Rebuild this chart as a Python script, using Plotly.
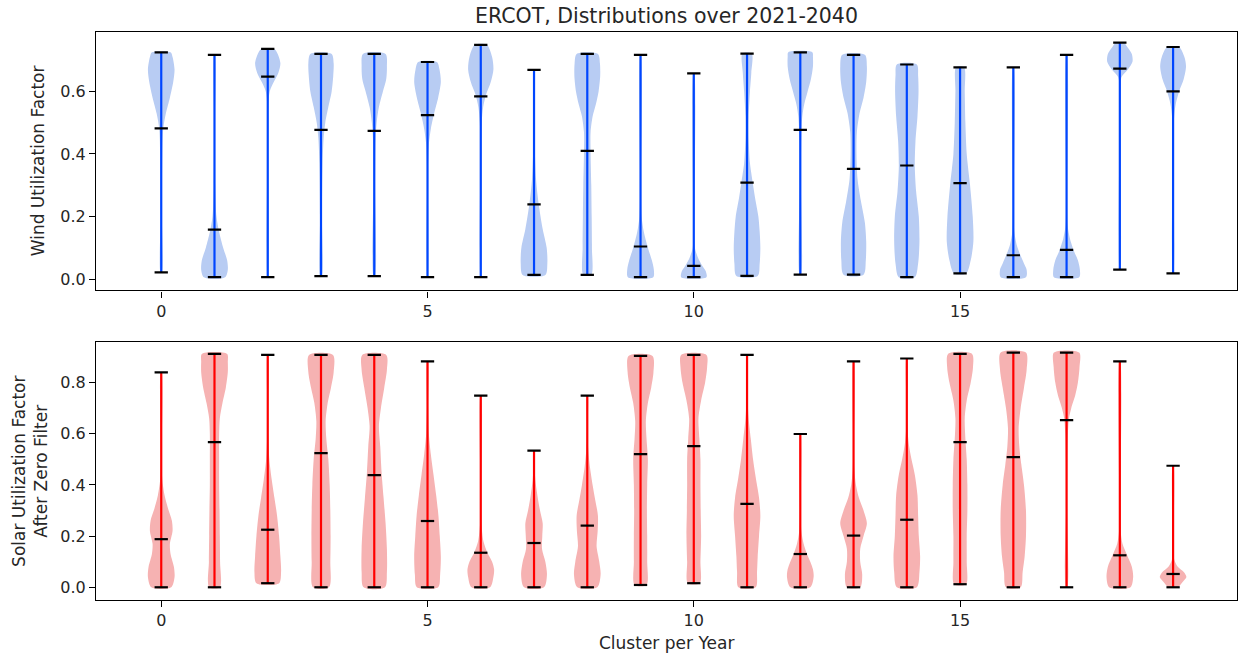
import plotly.graph_objects as go

# ---------------- data ----------------
CLUSTERS = list(range(20))

WIND_MIN = [0.021, 0.006, 0.006, 0.009, 0.009, 0.006, 0.006, 0.013, 0.013, 0.006,
            0.006, 0.010, 0.014, 0.014, 0.006, 0.018, 0.006, 0.006, 0.030, 0.018]
WIND_MAX = [0.725, 0.717, 0.736, 0.720, 0.720, 0.694, 0.749, 0.669, 0.720, 0.717,
            0.658, 0.721, 0.725, 0.717, 0.686, 0.677, 0.677, 0.717, 0.756, 0.742]
WIND_MEAN = [0.482, 0.158, 0.647, 0.477, 0.474, 0.524, 0.584, 0.239, 0.410, 0.104,
             0.042, 0.308, 0.477, 0.352, 0.363, 0.307, 0.076, 0.093, 0.673, 0.600]

# density profiles: (level, relative width) pairs, from min to max
WIND_SHAPE = [
    [(0.021, 0.05), (0.2, 0.05), (0.4, 0.08), (0.48, 0.15), (0.53, 0.35), (0.58, 0.65), (0.63, 0.9), (0.67, 1.0), (0.71, 0.85), (0.725, 0.7)],
    [(0.006, 0.8), (0.03, 1.0), (0.06, 0.95), (0.1, 0.65), (0.15, 0.35), (0.2, 0.15), (0.3, 0.05), (0.5, 0.03), (0.717, 0.03)],
    [(0.006, 0.02), (0.55, 0.03), (0.6, 0.15), (0.63, 0.45), (0.66, 0.8), (0.69, 0.95), (0.72, 0.75), (0.736, 0.5)],
    [(0.009, 0.06), (0.2, 0.07), (0.37, 0.12), (0.45, 0.2), (0.5, 0.32), (0.55, 0.55), (0.6, 0.8), (0.65, 0.92), (0.69, 0.95), (0.72, 0.8)],
    [(0.009, 0.05), (0.3, 0.06), (0.45, 0.1), (0.5, 0.18), (0.55, 0.35), (0.6, 0.65), (0.64, 0.9), (0.68, 0.95), (0.72, 0.85)],
    [(0.006, 0.02), (0.35, 0.03), (0.43, 0.1), (0.48, 0.25), (0.53, 0.5), (0.58, 0.8), (0.63, 1.0), (0.67, 0.9), (0.694, 0.7)],
    [(0.006, 0.02), (0.4, 0.03), (0.5, 0.07), (0.55, 0.18), (0.59, 0.4), (0.63, 0.75), (0.67, 0.95), (0.71, 0.85), (0.749, 0.45)],
    [(0.013, 0.85), (0.05, 1.0), (0.1, 0.95), (0.16, 0.65), (0.24, 0.35), (0.32, 0.15), (0.42, 0.06), (0.55, 0.03), (0.669, 0.03)],
    [(0.013, 0.3), (0.1, 0.35), (0.2, 0.33), (0.3, 0.3), (0.4, 0.25), (0.47, 0.25), (0.52, 0.4), (0.56, 0.65), (0.6, 0.85), (0.65, 0.97), (0.69, 0.95), (0.72, 0.8)],
    [(0.006, 0.95), (0.03, 1.0), (0.06, 0.85), (0.1, 0.55), (0.15, 0.25), (0.2, 0.08), (0.3, 0.03), (0.717, 0.03)],
    [(0.006, 0.95), (0.025, 0.9), (0.045, 0.6), (0.07, 0.3), (0.1, 0.08), (0.15, 0.03), (0.658, 0.03)],
    [(0.01, 0.8), (0.05, 0.95), (0.1, 1.0), (0.15, 0.95), (0.2, 0.85), (0.26, 0.6), (0.31, 0.42), (0.37, 0.22), (0.45, 0.12), (0.52, 0.12), (0.6, 0.22), (0.66, 0.32), (0.721, 0.35)],
    [(0.014, 0.05), (0.3, 0.05), (0.45, 0.07), (0.52, 0.15), (0.56, 0.3), (0.6, 0.55), (0.64, 0.8), (0.68, 0.95), (0.71, 0.95), (0.725, 0.9)],
    [(0.014, 0.75), (0.06, 0.92), (0.12, 0.95), (0.18, 0.85), (0.25, 0.55), (0.32, 0.3), (0.4, 0.22), (0.47, 0.25), (0.53, 0.45), (0.58, 0.75), (0.63, 0.95), (0.68, 1.0), (0.717, 0.85)],
    [(0.006, 0.6), (0.05, 0.85), (0.12, 0.95), (0.2, 0.9), (0.28, 0.7), (0.36, 0.6), (0.44, 0.65), (0.52, 0.8), (0.6, 0.88), (0.65, 0.85), (0.686, 0.75)],
    [(0.018, 0.45), (0.06, 0.8), (0.12, 1.0), (0.2, 0.95), (0.3, 0.75), (0.4, 0.5), (0.5, 0.4), (0.6, 0.35), (0.677, 0.3)],
    [(0.006, 0.95), (0.03, 1.0), (0.05, 0.8), (0.08, 0.5), (0.11, 0.25), (0.15, 0.08), (0.22, 0.03), (0.677, 0.03)],
    [(0.006, 0.95), (0.03, 1.0), (0.06, 0.85), (0.09, 0.55), (0.13, 0.25), (0.17, 0.08), (0.25, 0.03), (0.717, 0.03)],
    [(0.03, 0.02), (0.6, 0.03), (0.645, 0.12), (0.67, 0.6), (0.695, 0.95), (0.72, 0.9), (0.74, 0.6), (0.756, 0.3)],
    [(0.018, 0.02), (0.45, 0.03), (0.52, 0.08), (0.56, 0.2), (0.6, 0.45), (0.64, 0.8), (0.68, 0.97), (0.71, 0.85), (0.742, 0.45)],
]

SOLAR_MIN = [0.0, 0.0, 0.016, 0.0, 0.0, 0.0, 0.0, 0.0, 0.0, 0.009,
             0.016, 0.0, 0.0, 0.0, 0.0, 0.012, 0.0, 0.0, 0.0, 0.0]
SOLAR_MAX = [0.840, 0.912, 0.908, 0.908, 0.908, 0.883, 0.749, 0.534, 0.749, 0.904,
             0.908, 0.908, 0.599, 0.883, 0.894, 0.912, 0.917, 0.917, 0.883, 0.475]
SOLAR_MEAN = [0.188, 0.567, 0.225, 0.524, 0.438, 0.259, 0.135, 0.173, 0.241, 0.520,
              0.552, 0.326, 0.130, 0.202, 0.264, 0.567, 0.509, 0.653, 0.125, 0.052]

SOLAR_SHAPE = [
    [(0.0, 0.75), (0.04, 1.0), (0.08, 0.95), (0.13, 0.7), (0.17, 0.65), (0.22, 0.85), (0.26, 0.8), (0.31, 0.5), (0.36, 0.25), (0.42, 0.08), (0.5, 0.03), (0.84, 0.03)],
    [(0.0, 0.4), (0.1, 0.42), (0.2, 0.4), (0.3, 0.38), (0.4, 0.35), (0.5, 0.35), (0.6, 0.35), (0.66, 0.4), (0.72, 0.6), (0.78, 0.85), (0.84, 1.0), (0.88, 1.0), (0.912, 0.95)],
    [(0.016, 0.85), (0.06, 1.0), (0.12, 0.95), (0.2, 0.85), (0.28, 0.7), (0.35, 0.5), (0.42, 0.3), (0.5, 0.12), (0.58, 0.05), (0.7, 0.03), (0.908, 0.03)],
    [(0.0, 0.6), (0.1, 0.7), (0.2, 0.72), (0.3, 0.7), (0.4, 0.65), (0.5, 0.55), (0.58, 0.4), (0.65, 0.35), (0.72, 0.5), (0.78, 0.75), (0.84, 0.95), (0.908, 0.9)],
    [(0.0, 0.8), (0.06, 0.95), (0.15, 0.95), (0.25, 0.85), (0.35, 0.7), (0.45, 0.55), (0.55, 0.45), (0.63, 0.35), (0.7, 0.5), (0.78, 0.75), (0.85, 0.95), (0.908, 0.9)],
    [(0.0, 0.8), (0.05, 0.95), (0.12, 1.0), (0.2, 0.92), (0.28, 0.82), (0.36, 0.65), (0.44, 0.45), (0.52, 0.25), (0.6, 0.1), (0.7, 0.04), (0.883, 0.03)],
    [(0.0, 0.7), (0.04, 0.95), (0.07, 1.0), (0.1, 0.85), (0.135, 0.5), (0.18, 0.2), (0.25, 0.05), (0.4, 0.03), (0.749, 0.03)],
    [(0.0, 0.75), (0.05, 0.97), (0.1, 0.85), (0.15, 0.6), (0.2, 0.62), (0.25, 0.65), (0.3, 0.45), (0.36, 0.25), (0.42, 0.1), (0.48, 0.04), (0.534, 0.03)],
    [(0.0, 0.75), (0.05, 1.0), (0.1, 0.9), (0.16, 0.7), (0.22, 0.78), (0.28, 0.8), (0.34, 0.6), (0.4, 0.4), (0.47, 0.2), (0.54, 0.07), (0.62, 0.03), (0.749, 0.03)],
    [(0.009, 0.45), (0.1, 0.5), (0.2, 0.5), (0.3, 0.48), (0.4, 0.5), (0.5, 0.55), (0.58, 0.45), (0.65, 0.4), (0.72, 0.55), (0.78, 0.8), (0.84, 0.97), (0.904, 0.9)],
    [(0.016, 0.45), (0.1, 0.5), (0.2, 0.55), (0.3, 0.52), (0.4, 0.5), (0.5, 0.5), (0.58, 0.42), (0.66, 0.35), (0.73, 0.55), (0.8, 0.85), (0.86, 1.0), (0.908, 0.95)],
    [(0.0, 0.65), (0.06, 0.75), (0.12, 0.8), (0.2, 0.9), (0.28, 1.0), (0.35, 0.9), (0.43, 0.65), (0.5, 0.45), (0.58, 0.28), (0.66, 0.12), (0.74, 0.04), (0.908, 0.03)],
    [(0.0, 0.75), (0.04, 1.0), (0.07, 0.95), (0.1, 0.75), (0.13, 0.5), (0.17, 0.25), (0.22, 0.08), (0.3, 0.03), (0.599, 0.03)],
    [(0.0, 0.5), (0.05, 0.65), (0.1, 0.5), (0.15, 0.5), (0.2, 0.75), (0.25, 1.0), (0.3, 0.75), (0.35, 0.4), (0.4, 0.18), (0.46, 0.06), (0.55, 0.03), (0.883, 0.03)],
    [(0.0, 0.75), (0.06, 0.95), (0.12, 1.0), (0.2, 0.9), (0.28, 0.85), (0.36, 0.8), (0.44, 0.6), (0.5, 0.35), (0.56, 0.15), (0.62, 0.05), (0.7, 0.03), (0.894, 0.03)],
    [(0.012, 0.45), (0.1, 0.5), (0.2, 0.5), (0.3, 0.55), (0.4, 0.55), (0.5, 0.5), (0.58, 0.4), (0.66, 0.35), (0.73, 0.5), (0.8, 0.8), (0.86, 0.97), (0.912, 0.9)],
    [(0.0, 0.55), (0.06, 0.7), (0.12, 0.85), (0.2, 0.95), (0.3, 0.95), (0.4, 0.8), (0.48, 0.6), (0.55, 0.45), (0.62, 0.4), (0.7, 0.55), (0.78, 0.8), (0.85, 1.0), (0.917, 0.95)],
    [(0.0, 0.05), (0.3, 0.05), (0.5, 0.06), (0.6, 0.1), (0.66, 0.18), (0.7, 0.35), (0.75, 0.65), (0.8, 0.85), (0.86, 0.97), (0.917, 0.95)],
    [(0.0, 0.8), (0.04, 1.0), (0.08, 0.9), (0.125, 0.55), (0.17, 0.2), (0.22, 0.06), (0.3, 0.03), (0.883, 0.03)],
    [(0.0, 0.35), (0.02, 0.7), (0.04, 1.0), (0.06, 0.8), (0.08, 0.35), (0.11, 0.08), (0.15, 0.03), (0.475, 0.03)],
]

X_TICKS = [0, 5, 10, 15]
WIND_YTICKS = [0.0, 0.2, 0.4, 0.6]
SOLAR_YTICKS = [0.0, 0.2, 0.4, 0.6, 0.8]

TITLE = "ERCOT, Distributions over 2021-2040"
WIND_LABEL = "Wind Utilization Factor"
SOLAR_LABEL = "Solar Utilization Factor<br>After Zero Filter"
X_LABEL = "Cluster per Year"

# ---------------- styling ----------------
VIOLIN_WIDTH = 0.5
CAP_WIDTH = 0.25
WIND_FILL = "rgb(184,204,243)"
WIND_LINE = "rgb(0,70,255)"
SOLAR_FILL = "rgb(246,178,178)"
SOLAR_LINE = "rgb(255,0,0)"
FONT = "DejaVu Sans"
TEXT_COLOR = "#262626"

fig = go.Figure()


def add_panel(shapes, vmin, vmax, vmean, fill, line, xa, ya):
    for pos, shp in zip(CLUSTERS, shapes):
        ys = [p[0] for p in shp]
        ws = [p[1] * VIOLIN_WIDTH / 2 for p in shp]
        xr = [pos + w for w in ws]
        xl = [pos - w for w in ws]
        fig.add_trace(go.Scatter(
            x=xr + xl[::-1] + [xr[0]], y=ys + ys[::-1] + [ys[0]],
            mode="lines", fill="toself", fillcolor=fill,
            line=dict(width=0, shape="spline", smoothing=0.8),
            hoverinfo="skip", showlegend=False, xaxis=xa, yaxis=ya))
    # vertical bars
    vx, vy = [], []
    for pos, a, b in zip(CLUSTERS, vmin, vmax):
        vx += [pos, pos, None]
        vy += [a, b, None]
    fig.add_trace(go.Scatter(x=vx, y=vy, mode="lines",
                             line=dict(color=line, width=2.2),
                             hoverinfo="skip", showlegend=False, xaxis=xa, yaxis=ya))
    # caps (min, max, mean)
    cx, cy = [], []
    for pos, a, b, m in zip(CLUSTERS, vmin, vmax, vmean):
        for v in (a, b, m):
            cx += [pos - CAP_WIDTH / 2, pos + CAP_WIDTH / 2, None]
            cy += [v, v, None]
    fig.add_trace(go.Scatter(x=cx, y=cy, mode="lines",
                             line=dict(color="black", width=2.2),
                             hoverinfo="skip", showlegend=False, xaxis=xa, yaxis=ya))


add_panel(WIND_SHAPE, WIND_MIN, WIND_MAX, WIND_MEAN, WIND_FILL, WIND_LINE, "x", "y")
add_panel(SOLAR_SHAPE, SOLAR_MIN, SOLAR_MAX, SOLAR_MEAN, SOLAR_FILL, SOLAR_LINE, "x2", "y2")

axis_common = dict(showgrid=False, zeroline=False, showline=True, mirror=True,
                   linecolor="black", linewidth=1.2, ticks="outside", ticklen=6,
                   tickwidth=1.2, tickcolor="black",
                   tickfont=dict(family=FONT, size=16, color=TEXT_COLOR))

fig.update_layout(
    width=1238, height=655,
    margin=dict(l=96, r=1, t=32, b=55),
    paper_bgcolor="white", plot_bgcolor="white",
    font=dict(family=FONT, size=16, color=TEXT_COLOR),
    xaxis=dict(axis_common, range=[-1.225, 20.2], tickvals=X_TICKS, anchor="y"),
    yaxis=dict(axis_common, range=[-0.0365, 0.790], tickvals=WIND_YTICKS,
               tickformat=".1f", domain=[0.545, 1.0], anchor="x"),
    xaxis2=dict(axis_common, range=[-1.225, 20.2], tickvals=X_TICKS, anchor="y2"),
    yaxis2=dict(axis_common, range=[-0.0497, 0.958], tickvals=SOLAR_YTICKS,
                tickformat=".1f", domain=[0.0, 0.454], anchor="x2"),
    showlegend=False,
)

fig.add_annotation(text=TITLE, xref="paper", yref="paper", x=0.5, y=1.029,
                   xanchor="center", yanchor="middle", showarrow=False,
                   font=dict(family=FONT, size=20.5, color=TEXT_COLOR))
fig.add_annotation(text=WIND_LABEL, xref="paper", yref="paper", x=-0.0508, y=0.7725,
                   xanchor="center", yanchor="middle", textangle=-90, showarrow=False,
                   font=dict(family=FONT, size=17, color=TEXT_COLOR))
fig.add_annotation(text=SOLAR_LABEL, xref="paper", yref="paper", x=-0.058, y=0.227,
                   xanchor="center", yanchor="middle", textangle=-90, showarrow=False,
                   font=dict(family=FONT, size=17, color=TEXT_COLOR))
fig.add_annotation(text=X_LABEL, xref="paper", yref="paper", x=0.5, y=-0.0757,
                   xanchor="center", yanchor="middle", showarrow=False,
                   font=dict(family=FONT, size=17, color=TEXT_COLOR))

fig.write_html(
    "out.html",
    config={"displayModeBar": False},
    post_script="document.body.style.margin='0';document.body.style.overflow='hidden';",
)
